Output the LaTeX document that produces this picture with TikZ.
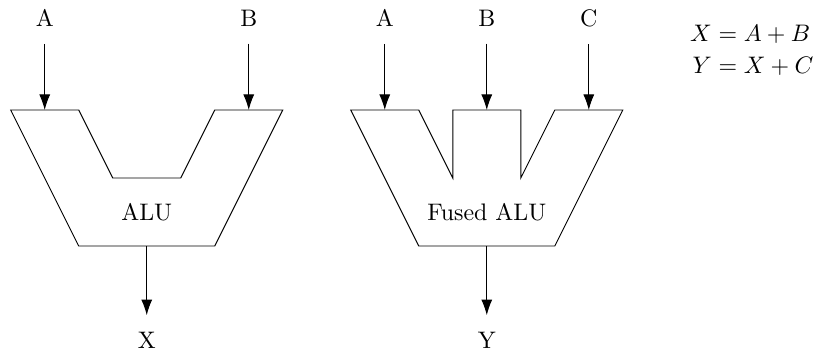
\documentclass[tikz,border=0pt]{standalone}
\usepackage{amsmath}
\usetikzlibrary{arrows.meta}
\setlength{\jot}{1.5pt}
\begin{document}
\begin{tikzpicture}[x=0.5cm,y=0.5cm,
  lab/.style={inner xsep=0pt, inner ysep=7pt},
  arr/.style={-{Latex[length=6.5pt,width=4.6pt]}, line width=0.4pt},
  alushape/.style={draw, line width=0.4pt, line join=miter}]
\useasboundingbox (-0.315,-3.235) rectangle (23.74,7.235);
% left ALU
\draw[alushape] (0,4) -- (2,4) -- (3,2) -- (5,2) -- (6,4) -- (8,4) -- (6,0) -- (2,0) -- cycle;
\node (alu) at (4,1) {ALU};
\coordinate (inA1) at (1,4);
\coordinate (inB1) at (7,4);
\coordinate (out1) at (4,0);
\node[lab] (A1) at (1,6.7) {A};
\node[lab] (B1) at (7,6.7) {B};
\node[lab] (X1) at (4,-2.78) {X};
\draw[arr] (A1) -- (inA1);
\draw[arr] (B1) -- (inB1);
\draw[arr] (out1) -- (X1);
% right fused ALU
\draw[alushape] (10,4) -- (12,4) -- (13,2) -- (13,4) -- (15,4) -- (15,2) -- (16,4) -- (18,4) -- (16,0) -- (12,0) -- cycle;
\node (falu) at (14,1) {Fused ALU};
\coordinate (inA2) at (11,4);
\coordinate (inB2) at (14,4);
\coordinate (inC2) at (17,4);
\coordinate (out2) at (14,0);
\node[lab] (A2) at (11,6.7) {A};
\node[lab] (B2) at (14,6.7) {B};
\node[lab] (C2) at (17,6.7) {C};
\node[lab] (Y2) at (14,-2.78) {Y};
\draw[arr] (A2) -- (inA2);
\draw[arr] (B2) -- (inB2);
\draw[arr] (C2) -- (inC2);
\draw[arr] (out2) -- (Y2);
% equations
\node[anchor=east, inner sep=0pt] (eq) at (23.62,5.72) {$\begin{aligned} X &= A+B\\ Y &= X+C \end{aligned}$};
\end{tikzpicture}
\end{document}
